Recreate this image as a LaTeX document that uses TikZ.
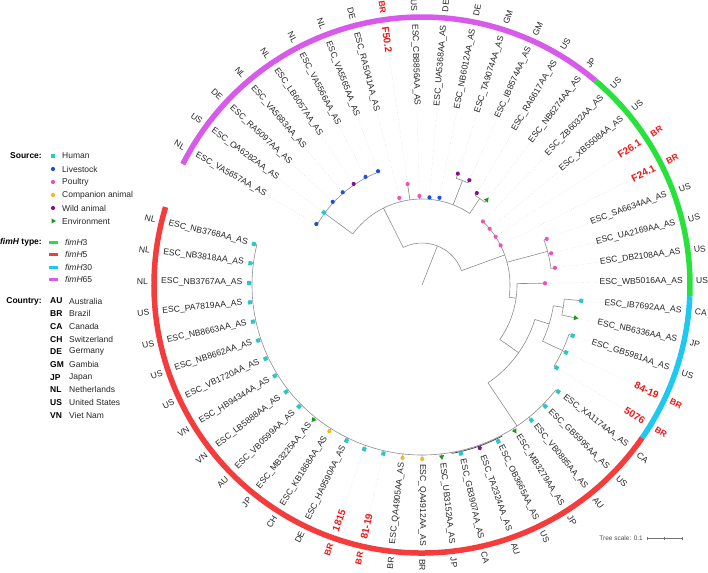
\documentclass[tikz,border=0pt]{standalone}
\usepackage{fontspec}
\setmainfont{Liberation Sans}
\usetikzlibrary{shapes.geometric}

% ── colours ──
\definecolor{srcHum}{RGB}{40,200,200}
\definecolor{srcLiv}{RGB}{30,80,220}
\definecolor{srcPou}{RGB}{240,80,190}
\definecolor{srcCom}{RGB}{245,185,30}
\definecolor{srcWil}{RGB}{130,20,140}
\definecolor{srcEnv}{RGB}{30,150,30}
\definecolor{fimThree}{RGB}{40,225,60}
\definecolor{fimFive}{RGB}{245,60,60}
\definecolor{fimThirty}{RGB}{30,200,240}
\definecolor{fimSixtyfive}{RGB}{215,90,235}
\definecolor{brRed}{RGB}{240,20,20}

\tikzset{
  branch/.style={draw=black!45, line width=0.6pt},
  leader/.style={draw=black!22, dotted, line width=0.4pt},
  ring/.style={line width=5.5pt, line cap=butt},
  labn/.style={font=\fontsize{8.6}{10}\selectfont, text=black!85, inner sep=1pt},
  labr/.style={font=\fontsize{10}{12}\selectfont\bfseries, text=brRed, inner sep=1pt},
  ctyn/.style={font=\fontsize{8.6}{10}\selectfont, text=black!85, inner sep=1pt},
  ctyr/.style={font=\fontsize{8.6}{10}\selectfont\bfseries, text=brRed, inner sep=1pt},
  Hu/.style={rectangle, fill=srcHum, inner sep=0pt, minimum size=4pt},
  Li/.style={circle, fill=srcLiv, inner sep=0pt, minimum size=4.2pt},
  Po/.style={circle, fill=srcPou, inner sep=0pt, minimum size=4.2pt},
  Co/.style={circle, fill=srcCom, inner sep=0pt, minimum size=4.2pt},
  Wi/.style={circle, fill=srcWil, inner sep=0pt, minimum size=4.2pt},
  En/.style={isosceles triangle, isosceles triangle apex angle=60, fill=srcEnv, inner sep=0pt, minimum size=4.5pt},
  hdr/.style={font=\fontsize{8.5}{10}\selectfont\bfseries, anchor=east, inner sep=0pt},
  lgtxt/.style={font=\fontsize{8.5}{10}\selectfont, text=black!85, anchor=west, inner sep=0pt},
  lgcode/.style={font=\fontsize{8.5}{10}\selectfont\bfseries, anchor=west, inner sep=0pt},
}

\begin{document}
\begin{tikzpicture}[x=1pt, y=1pt]
\useasboundingbox (0,0) rectangle (708,-572);

% ── Helpers ──
\def\radial#1#2#3{\draw[branch] (#1:#2) -- (#1:#3);}
\def\arcat#1#2#3{\draw[branch] (#2:#1) arc[start angle=#2, end angle=#3, radius=#1];}

% ═══════════════════════════════════════
% LEGEND
% ═══════════════════════════════════════
\node[hdr] (srcHdr) at (42,-156) {Source:};
\foreach \s/\t/\y in {Hu/Human/156, Li/Livestock/169, Po/Poultry/182, Co/Companion animal/195, Wi/Wild animal/208, En/Environment/221} {
  \node[\s] (lg\s) at (53,-\y) {};
  \node[lgtxt] (lg\s T) at (62,-\y) {\t};
}

\node[hdr] (fimHdr) at (42,-242) {\textit{fimH} type:};
\foreach \c/\t/\y in {fimThree/3/242, fimFive/5/254.5, fimThirty/30/267, fimSixtyfive/65/279.5} {
  \draw[\c, line width=3pt] (49,-\y) -- (57.5,-\y);
  \node[lgtxt] (lg\c) at (65,-\y) {\textit{fimH}\t};
}

\node[hdr] (ctyHdr) at (42,-301) {Country:};
\foreach \c/\t/\y in {AU/Australia/301, BR/Brazil/313.7, CA/Canada/326.4, CH/Switzerland/339.1, DE/Germany/351.8, GM/Gambia/364.5, JP/Japan/377.2, NL/Netherlands/389.9, US/United States/402.6, VN/Viet Nam/415.3} {
  \node[lgcode] (code\c) at (50,-\y) {\c};
  \node[lgtxt] (name\c) at (69,-\y) {\t};
}

% ═══════════════════════════════════════
% TREE
% ═══════════════════════════════════════
\begin{scope}[shift={(422,-285)}]

% fimH ring
\draw[ring, fimSixtyfive] (153.2:268) arc[start angle=153.2, end angle=49.7, radius=268];
\draw[ring, fimThree]     (49.7:268)  arc[start angle=49.7,  end angle=-2.4, radius=268];
\draw[ring, fimThirty]    (-2.4:268)  arc[start angle=-2.4,  end angle=-34.8, radius=268];
\draw[ring, fimFive]      (-34.8:268) arc[start angle=-34.8, end angle=-196.9, radius=268];

% internal branches
\radial{68.5}{0}{42}
\arcat{42}{116.6}{20}
\radial{116.6}{42}{86}
\arcat{86}{143.6}{56.3}
\radial{143.6}{86}{121}
\arcat{121}{150}{111.1}
\radial{68.8}{86}{112}
\arcat{112}{72.2}{65.7}
\radial{56.3}{86}{104}
\arcat{104}{59.2}{52.7}
\radial{20}{42}{88}
\arcat{88}{46.2}{-8}
\radial{15}{88}{130}
\arcat{130}{20.3}{7.3}
\radial{-8}{88}{95}
\arcat{95}{0.9}{-35}
\radial{-35}{95}{118}
\arcat{118}{-17}{-56}
\radial{-17}{118}{133}
\arcat{133}{-9}{-25}
\radial{-9}{133}{143}
\arcat{143}{-5.7}{-12.2}
\radial{-25}{133}{155}
\arcat{155}{-18.6}{-31.6}
\radial{-56}{118}{170}
\arcat{170}{-38.1}{-193.7}
\draw[black!75, line width=0.7pt] (-62:171) arc[start angle=-62, end angle=-80, radius=171];

% leaves
\foreach \k/\lab/\cty/\src/\tr/\pr/\f in {
  1/ESC\_VA5657AA\_AS/NL/Li/122/121/n,
  2/ESC\_OA6282AA\_AS/US/Hu/122/121/n,
  3/ESC\_RA5097AA\_AS/DE/Li/122/121/n,
  4/ESC\_VA5683AA\_AS/NL/Li/122/121/n,
  5/ESC\_LB6057AA\_AS/NL/Wi/122/121/n,
  6/ESC\_VA5566AA\_AS/NL/Li/122/121/n,
  7/ESC\_VA5565AA\_AS/NL/Li/122/121/n,
  8/ESC\_RA5041AA\_AS/DE/Po/90/86/n,
  9/F50.2/BR/Po/102/86/r,
  10/ESC\_CB8856AA\_AS/US/Po/89/86/n,
  11/ESC\_UA5368AA\_AS/DE/Li/88/86/n,
  12/ESC\_NB6012AA\_AS/DE/Li/89/86/n,
  13/ESC\_TA9074AA\_AS/GM/Wi/117/112/n,
  14/ESC\_IB8574AA\_AS/GM/Wi/115/112/n,
  15/ESC\_RA6617AA\_AS/US/Wi/107/104/n,
  16/ESC\_NB6274AA\_AS/JP/En/107/104/n,
  17/ESC\_ZB6032AA\_AS/US/Po/88/88/n,
  18/ESC\_XB5508AA\_AS/US/Po/88/88/n,
  19/F26.1/BR/Po/88/88/r,
  20/F24.1/BR/Po/88/88/r,
  21/ESC\_SA6634AA\_AS/US/Po/133/130/n,
  22/ESC\_UA2169AA\_AS/US/Po/133/130/n,
  23/ESC\_DB2108AA\_AS/US/Po/134/130/n,
  24/ESC\_WB5016AA\_AS/US/Po/123/95/n,
  25/ESC\_IB7692AA\_AS/CA/Hu/160/143/n,
  26/ESC\_NB6336AA\_AS/JP/En/157/143/n,
  27/ESC\_GB5981AA\_AS/US/Hu/159/155/n,
  28/84-19/BR/Hu/159/155/r,
  29/5076/BR/Hu/158/155/r,
  30/ESC\_XA1174AA\_AS/CA/Hu/173/170/n,
  31/ESC\_GB5995AA\_AS/US/Hu/173/170/n,
  32/ESC\_VB0885AA\_AS/AU/Hu/174/170/n,
  33/ESC\_MB3279AA\_AS/JP/En/173/170/n,
  34/ESC\_OB3665AA\_AS/US/Hu/174/170/n,
  35/ESC\_TA2324AA\_AS/AU/Wi/173/170/n,
  36/ESC\_GB3907AA\_AS/CA/Hu/173/170/n,
  37/ESC\_UB3152AA\_AS/JP/En/173/170/n,
  38/ESC\_QA4912AA\_AS/BR/Co/174/170/n,
  39/ESC\_QA4905AA\_AS/BR/Co/174/170/n,
  40/81-19/BR/Hu/173/170/r,
  41/1815/BR/Hu/174/170/r,
  42/ESC\_HA9590AA\_AS/DE/Hu/173/170/n,
  43/ESC\_KB1868AA\_AS/CH/Co/173/170/n,
  44/ESC\_MB3225AA\_AS/JP/En/173/170/n,
  45/ESC\_VB0599AA\_AS/AU/Hu/173/170/n,
  46/ESC\_LB5888AA\_AS/VN/Hu/173/170/n,
  47/ESC\_HB9434AA\_AS/VN/Hu/173/170/n,
  48/ESC\_VB1720AA\_AS/US/Hu/173/170/n,
  49/ESC\_NB8662AA\_AS/US/Hu/173/170/n,
  50/ESC\_NB8663AA\_AS/US/Hu/173/170/n,
  51/ESC\_PA7819AA\_AS/US/Hu/173/170/n,
  52/ESC\_NB3767AA\_AS/NL/Hu/173/170/n,
  53/ESC\_NB3818AA\_AS/NL/Hu/173/170/n,
  54/ESC\_NB3768AA\_AS/NL/Hu/173/170/n} {
  \pgfmathsetmacro\ang{150-(\k-1)*6.485}
  \pgfmathtruncatemacro\side{abs(\ang)<90}
  \ifnum\side=1
    \let\rot\ang \def\lo{east}\def\li{west}
  \else
    \pgfmathsetmacro\rot{\ang+180}\def\lo{west}\def\li{east}
  \fi
  \draw[branch] (\ang:\pr) -- (\ang:\tr);
  \node[lab\f, rotate=\rot, anchor=\lo] (lab\k) at (\ang:262) {\lab};
  \node[cty\f, rotate=\rot, anchor=\li] (cty\k) at (\ang:273) {\cty};
  \draw[leader] (\ang:\tr) -- (lab\k.\li);
  \node[\src, rotate=\ang] (tip\k) at (\ang:\tr) {};
}
\end{scope}

% ── Tree scale ──
\node[font=\fontsize{6.5}{8}\selectfont, text=black!70, anchor=east, inner sep=0pt] (scl) at (643,-538) {Tree scale: 0.1};
\draw[black!55, line width=0.5pt] (647,-538) -- (682,-538);
\foreach \x in {647, 664.5, 682} \draw[black!55, line width=0.5pt] (\x,-536.5) -- (\x,-539.5);

\end{tikzpicture}
\end{document}
